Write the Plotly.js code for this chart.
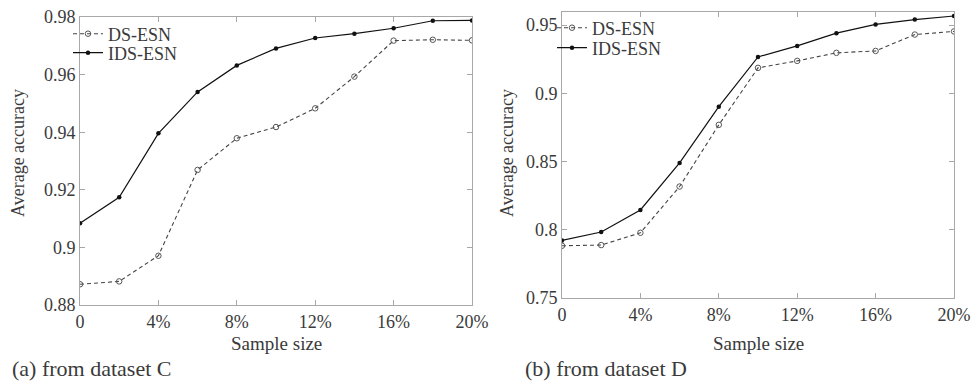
<!DOCTYPE html>
<html>
<head>
<meta charset="utf-8">
<script src="https://cdn.plot.ly/plotly-3.0.1.min.js"></script>
<style>html,body{margin:0;padding:0;background:#fff;}#chart{width:971px;height:381px;}</style>
</head>
<body>
<div id="chart"></div>
<script>
// Sample size (%)
const sampleSize = [0, 2, 4, 6, 8, 10, 12, 14, 16, 18, 20];
const xTickVals = [0, 4, 8, 12, 16, 20];
const xTickText = ["0", "4%", "8%", "12%", "16%", "20%"];

// (a) dataset C
const dsEsnC  = [0.8872, 0.8882, 0.8971, 0.9269, 0.9379, 0.9418, 0.9483, 0.9593, 0.9718, 0.9721, 0.9719];
const idsEsnC = [0.9084, 0.9174, 0.9396, 0.9540, 0.9632, 0.9691, 0.9727, 0.9742, 0.9761, 0.9787, 0.9788];
const yTickValsC = [0.88, 0.90, 0.92, 0.94, 0.96, 0.98];
const yTickTextC = ["0.88", "0.9", "0.92", "0.94", "0.96", "0.98"];

// (b) dataset D
const dsEsnD  = [0.7883, 0.7888, 0.7978, 0.8317, 0.8769, 0.9187, 0.9238, 0.9297, 0.9311, 0.9431, 0.9454];
const idsEsnD = [0.7922, 0.7984, 0.8145, 0.8490, 0.8902, 0.9267, 0.9348, 0.9441, 0.9505, 0.9541, 0.9567];
const yTickValsD = [0.75, 0.80, 0.85, 0.90, 0.95];
const yTickTextD = ["0.75", "0.8", "0.85", "0.9", "0.95"];

const seriesNames = ["DS-ESN", "IDS-ESN"];
const captions = ["(a) from dataset C", "(b) from dataset D"];
const xTitle = "Sample size";
const yTitle = "Average accuracy";

const W = 971, H = 381;
const font = "Liberation Serif";
const txt = "#3a3a3a";

const dsStyle = {
  mode: "lines+markers",
  line: {color: "#444", width: 1.1, dash: "4px,3px"},
  marker: {symbol: "circle-open", size: 5.5, color: "#555", line: {width: 1, color: "#555"}}
};
const idsStyle = {
  mode: "lines+markers",
  line: {color: "#111", width: 1.2},
  marker: {symbol: "circle", size: 4.5, color: "#111"}
};

const traces = [
  Object.assign({x: sampleSize, y: dsEsnC, name: seriesNames[0], xaxis: "x", yaxis: "y", legend: "legend"}, dsStyle),
  Object.assign({x: sampleSize, y: idsEsnC, name: seriesNames[1], xaxis: "x", yaxis: "y", legend: "legend2"}, idsStyle),
  Object.assign({x: sampleSize, y: dsEsnD, name: seriesNames[0], xaxis: "x2", yaxis: "y2", legend: "legend3"}, dsStyle),
  Object.assign({x: sampleSize, y: idsEsnD, name: seriesNames[1], xaxis: "x2", yaxis: "y2", legend: "legend4"}, idsStyle)
];

function axisBase() {
  return {
    showline: true, mirror: "ticks", linecolor: "#a8a8a8", linewidth: 1,
    ticks: "inside", ticklen: 5, tickcolor: "#a8a8a8", tickwidth: 1,
    showgrid: false, zeroline: false, fixedrange: true,
    tickfont: {family: font, size: 18, color: txt}
  };
}

function legendAt(px, py) {
  return {x: px / W, y: 1 - py / H, xanchor: "left", yanchor: "middle", bgcolor: "rgba(0,0,0,0)",
          font: {family: font, size: 18, color: txt}, tracegroupgap: 0, itemwidth: 30};
}

const layout = {
  width: W, height: H,
  margin: {l: 0, r: 0, t: 0, b: 0},
  paper_bgcolor: "#fff", plot_bgcolor: "#fff",
  font: {family: font, color: txt},
  showlegend: true,
  xaxis: Object.assign(axisBase(), {domain: [80 / W, 472 / W], range: [0, 20], tickvals: xTickVals, ticktext: xTickText, anchor: "y"}),
  yaxis: Object.assign(axisBase(), {domain: [(H - 305) / H, (H - 17) / H], range: [0.88, 0.98], tickvals: yTickValsC, ticktext: yTickTextC, anchor: "x"}),
  xaxis2: Object.assign(axisBase(), {domain: [562 / W, 954 / W], range: [0, 20], tickvals: xTickVals, ticktext: xTickText, anchor: "y2"}),
  yaxis2: Object.assign(axisBase(), {domain: [(H - 298) / H, (H - 11.5) / H], range: [0.75, 0.96], tickvals: yTickValsD, ticktext: yTickTextD, anchor: "x2"}),
  legend: legendAt(68, 34),
  legend2: legendAt(68, 53),
  legend3: legendAt(552, 28),
  legend4: legendAt(552, 48),
  annotations: [
    {text: xTitle, xref: "paper", yref: "paper", x: 276 / W, y: 1 - 343 / H, xanchor: "center", yanchor: "middle", showarrow: false, font: {family: font, size: 19, color: txt}},
    {text: xTitle, xref: "paper", yref: "paper", x: 758 / W, y: 1 - 343 / H, xanchor: "center", yanchor: "middle", showarrow: false, font: {family: font, size: 19, color: txt}},
    {text: yTitle, xref: "paper", yref: "paper", x: 18 / W, y: 1 - 153 / H, xanchor: "center", yanchor: "middle", textangle: -90, showarrow: false, font: {family: font, size: 18, color: txt}},
    {text: yTitle, xref: "paper", yref: "paper", x: 507 / W, y: 1 - 153 / H, xanchor: "center", yanchor: "middle", textangle: -90, showarrow: false, font: {family: font, size: 18, color: txt}},
    {text: captions[0], xref: "paper", yref: "paper", x: 10 / W, y: 1 - 368 / H, xanchor: "left", yanchor: "middle", showarrow: false, font: {family: font, size: 22, color: txt}},
    {text: captions[1], xref: "paper", yref: "paper", x: 523 / W, y: 1 - 368 / H, xanchor: "left", yanchor: "middle", showarrow: false, font: {family: font, size: 22, color: txt}}
  ]
};

Plotly.newPlot("chart", traces, layout, {displayModeBar: false, staticPlot: true});
</script>
</body>
</html>
